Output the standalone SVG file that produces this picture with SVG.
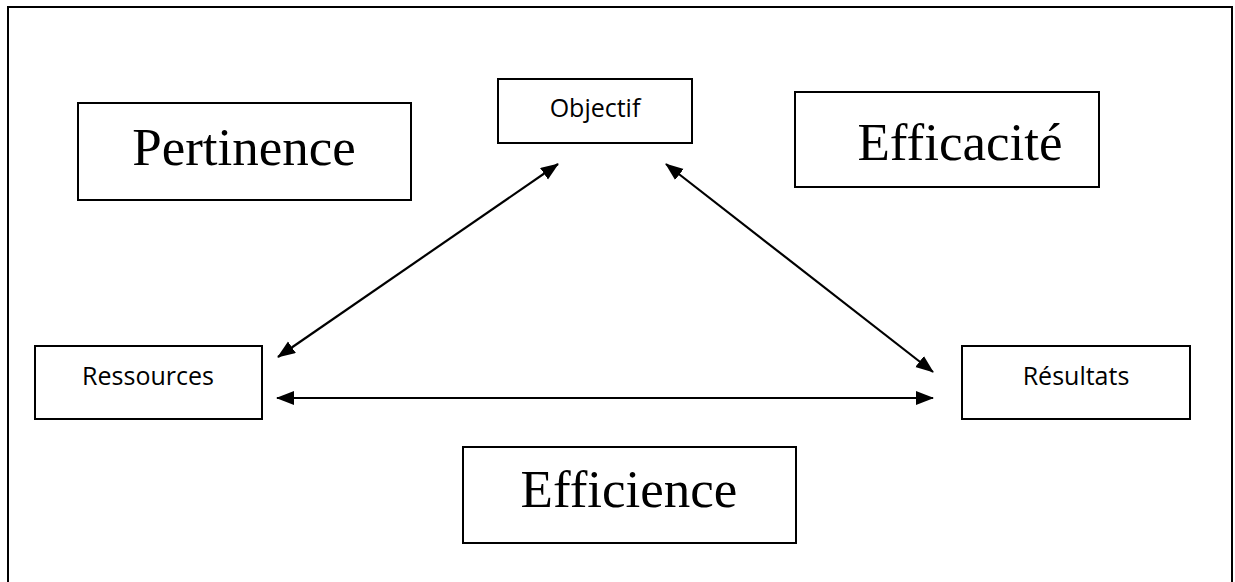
<svg xmlns="http://www.w3.org/2000/svg" width="1235" height="582" viewBox="0 0 1235 582">
  <style>
    .box { fill: #fff; stroke: #000; stroke-width: 2; }
    .frame { fill: none; stroke: #000; stroke-width: 2; }
    .big { font-family: "Liberation Serif", "Times New Roman", serif; font-size: 53px; fill: #000; text-anchor: middle; }
    .small { font-family: "Open Sans", "Liberation Sans", sans-serif; font-size: 25px; fill: #000; text-anchor: middle; }
    .link { stroke: #000; stroke-width: 2.2; fill: none; marker-start: url(#head); marker-end: url(#head); }
  </style>
  <defs>
    <marker id="head" markerUnits="userSpaceOnUse" markerWidth="18" markerHeight="15" refX="17" refY="7" orient="auto-start-reverse">
      <path d="M0,0 L18,7 L0,14 z" fill="#000"/>
    </marker>
  </defs>

  <rect width="1235" height="582" fill="#fff"/>
  <!-- outer frame, open at the bottom -->
  <path class="frame" d="M8,600 L8,7 L1232,7 L1232,600"/>

  <g id="pertinence">
    <rect class="box" x="78" y="103" width="333" height="97"/>
    <text class="big" x="244" y="165">Pertinence</text>
  </g>

  <g id="objectif">
    <rect class="box" x="498" y="79" width="194" height="64"/>
    <text class="small" x="595" y="117">Objectif</text>
  </g>

  <g id="efficacite">
    <rect class="box" x="795" y="92" width="304" height="95"/>
    <text class="big" x="960" y="160">Efficacité</text>
  </g>

  <g id="ressources">
    <rect class="box" x="35" y="346" width="227" height="73"/>
    <text class="small" x="148" y="385">Ressources</text>
  </g>

  <g id="resultats">
    <rect class="box" x="962" y="346" width="228" height="73"/>
    <text class="small" x="1076" y="385">Résultats</text>
  </g>

  <g id="efficience">
    <rect class="box" x="463" y="447" width="333" height="96"/>
    <text class="big" x="629" y="507">Efficience</text>
  </g>

  <g id="connectors">
    <line class="link" x1="278" y1="357" x2="558" y2="164"/>
    <line class="link" x1="666" y1="164" x2="933" y2="372"/>
    <line class="link" x1="277" y1="398" x2="933" y2="398"/>
  </g>
</svg>
